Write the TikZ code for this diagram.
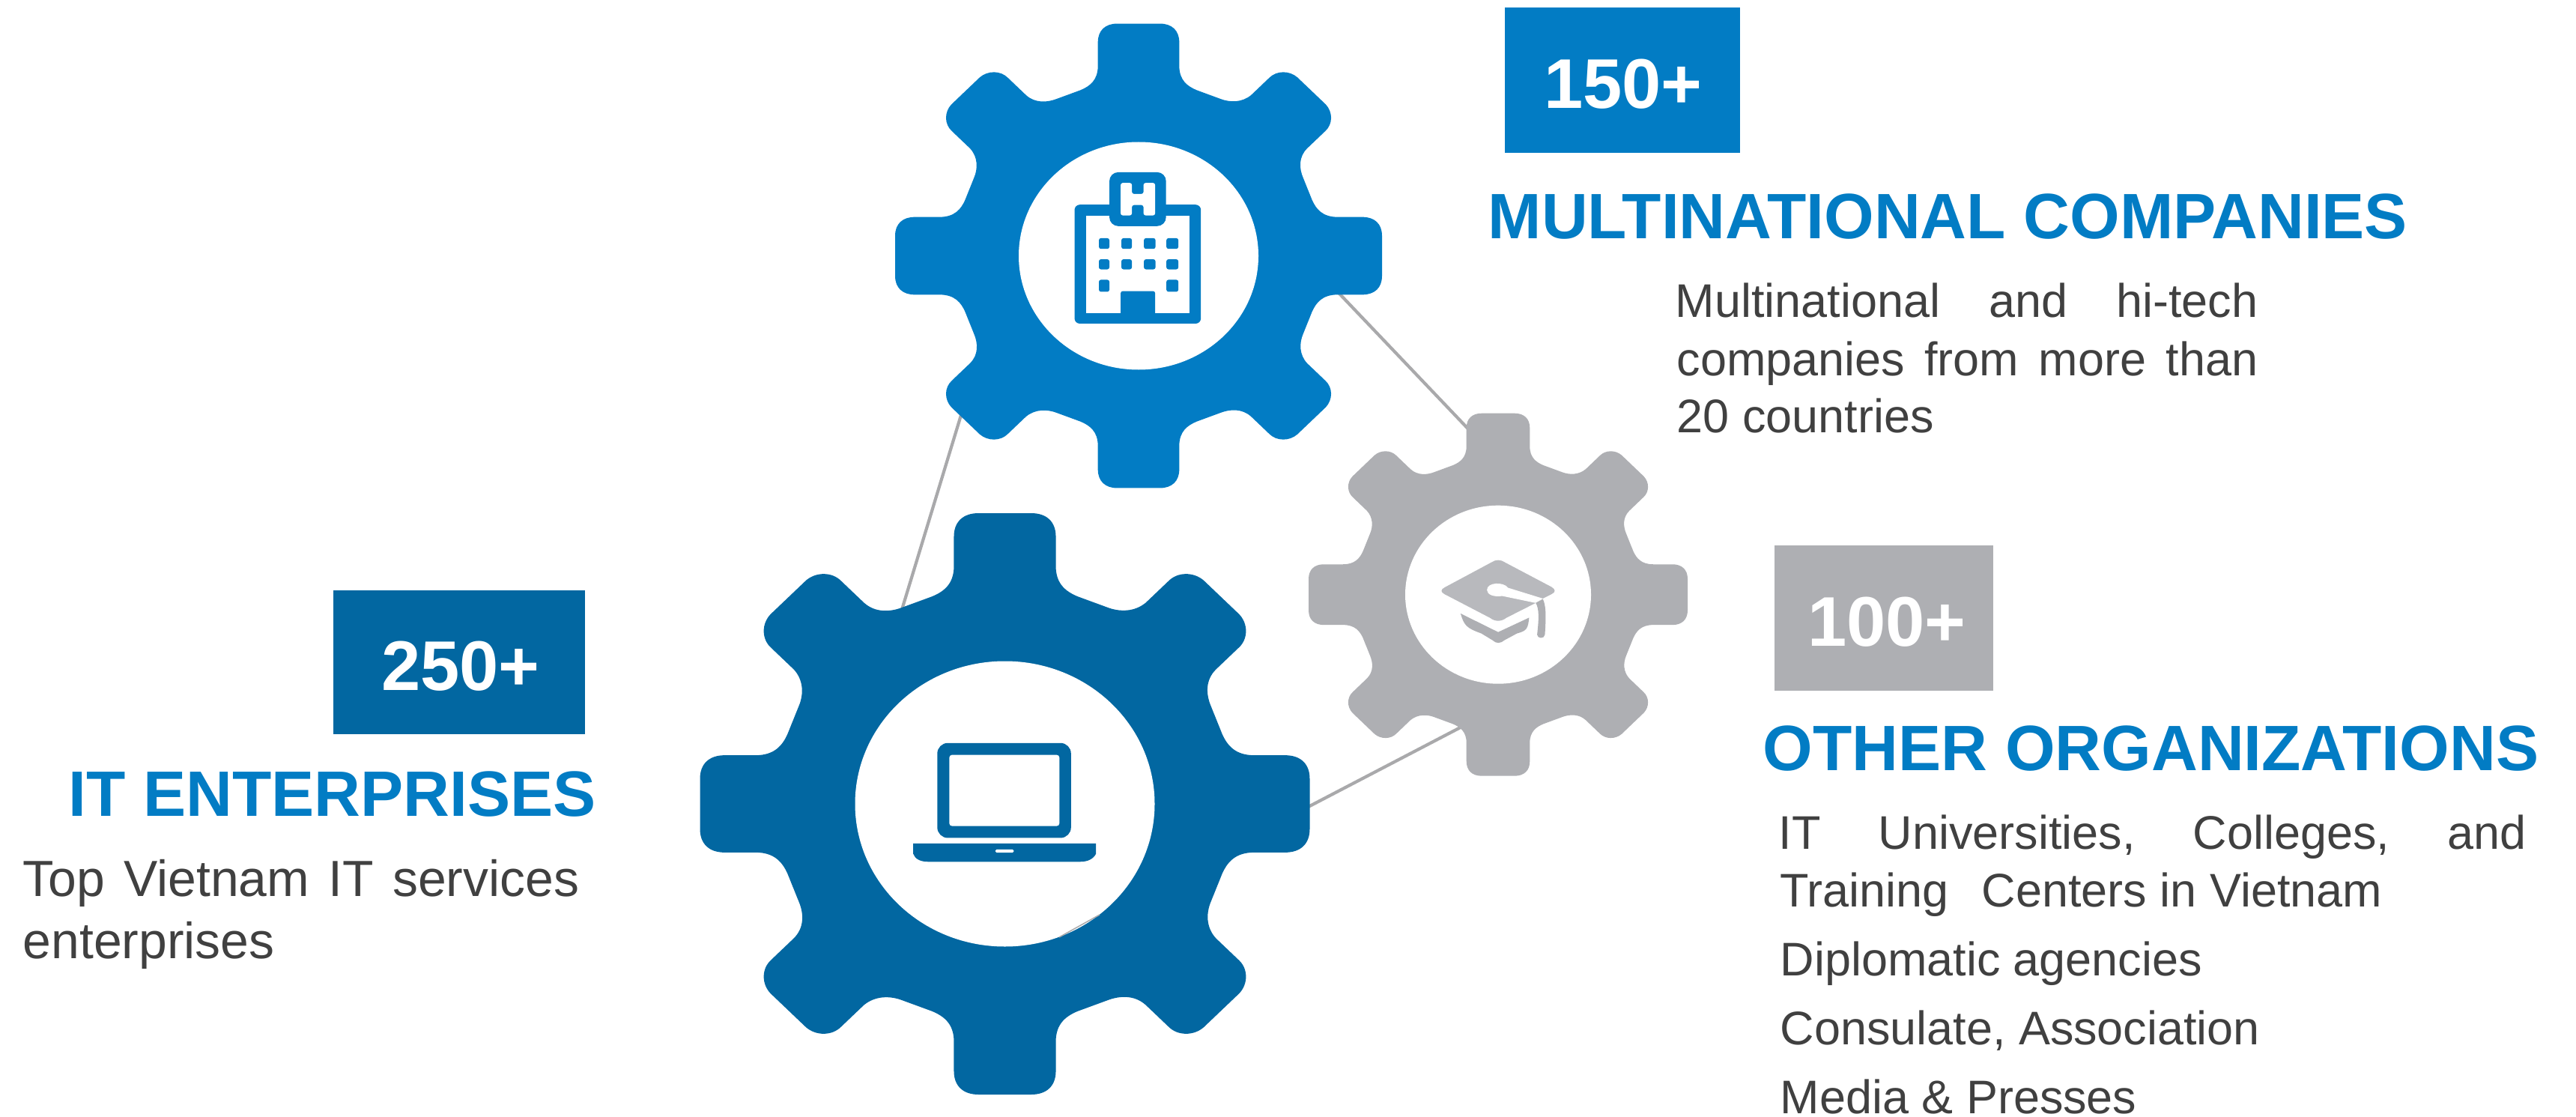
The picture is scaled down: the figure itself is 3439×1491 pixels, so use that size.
\documentclass[tikz,border=0pt]{standalone}
\usepackage{fontspec}
\setmainfont{Liberation Sans}
\definecolor{gearblue}{HTML}{027CC4}
\definecolor{geardark}{HTML}{0267A1}
\definecolor{geargrey}{HTML}{AEAFB3}
\definecolor{caplight}{HTML}{B8B9BD}
\definecolor{linkgrey}{HTML}{A9A9AB}
\definecolor{headblue}{HTML}{027CC4}
\definecolor{bodygrey}{HTML}{404040}
\newcommand\gearquad{ .. controls (92,670) and (112,650) .. (112,616) -- (112,548)
  .. controls (112,506) and (135,489) .. (160,478) -- (225,453)
  .. controls (252,442) and (285,440) .. (310,464) -- (360,514)
  .. controls (380,535) and (415,535) .. (437,515) -- (515,437)
  .. controls (535,415) and (535,380) .. (514,360) -- (464,310)
  .. controls (442,285) and (442,252) .. (453,225) -- (478,160)
  .. controls (489,135) and (506,112) .. (548,112) -- (616,112)
  .. controls (650,112) and (670,92) .. (670,58)}
\newcommand\gearbody{(58,670) \gearquad
  {[rotate=90] -- (58,670) \gearquad}
  {[rotate=180] -- (58,670) \gearquad}
  {[rotate=270] -- (58,670) \gearquad} -- cycle}
% centre x, centre y, half width, half height, hole rx, hole ry, colour
\newcommand\gearshape[7]{%
  \begin{scope}[shift={(#1,#2)}]
    \begin{scope}[xscale=#3/670,yscale=#4/670]
      \fill[#7] \gearbody;
    \end{scope}
    \fill[white] (0,0) ellipse [x radius=#5,y radius=#6];
  \end{scope}}
\tikzset{
  countbox/.style={rectangle,inner sep=0pt,text=white,text height=0.74cm,text depth=0cm,font=\fontsize{26.7}{27}\selectfont\bfseries},
  headline/.style={anchor=base west,inner sep=0pt,text=headblue,font=\fontsize{24.35}{25}\selectfont\bfseries},
  bodyline/.style={anchor=base west,inner sep=0pt,text=bodygrey,font=\fontsize{17.9}{18}\selectfont},
  bodylarge/.style={bodyline,font=\fontsize{19.3}{20}\selectfont},
  linkline/.style={draw=linkgrey,line width=0.042cm}
}
\begin{document}
\begin{tikzpicture}[x=0.01cm,y=-0.01cm]
\useasboundingbox (0,0) rectangle (3439,1491);
% connectors, behind the gears
\coordinate (bd1) at (1301,495);
\coordinate (bd2) at (1196,840);
\coordinate (bg1) at (1770,373);
\coordinate (bg2) at (1970,583);
\coordinate (dg1) at (1735,1083);
\coordinate (dg2) at (1965,963);
\draw[linkline] (bd1) -- (bd2);
\draw[linkline] (bg1) -- (bg2);
\draw[linkline] (dg1) -- (dg2);
% gears
\gearshape{1520}{341.5}{325}{310}{160}{152}{gearblue}
\gearshape{2000}{793.7}{253}{242}{124}{119}{geargrey}
\gearshape{1341.5}{1073}{407}{388}{200}{190.5}{geardark}
% sliver on the edge of the large hole
\coordinate (sl1) at (1414,1251);
\coordinate (sl2) at (1468,1221);
\draw[draw=linkgrey,line width=0.015cm] (sl1) -- (sl2);
% building icon
\begin{scope}[shift={(1150,0)},xscale=0.4847,yscale=0.4337]
  \fill[gearblue,rounded corners=2pt] (587,630) rectangle (935,996);
  \fill[white] (619,663) rectangle (904,964);
  \fill[gearblue,rounded corners=3.4pt] (683,530) rectangle (839,696);
  \fill[white,rounded corners=0.8pt] (714,563) -- (745,563) -- (745,597) -- (777,597) -- (777,563) -- (809,563) -- (809,663) -- (777,663) -- (777,631) -- (745,631) -- (745,663) -- (714,663) -- cycle;
  \foreach \wx/\wr in {654/683,716/745,778/810,840/873}{
    \fill[gearblue,rounded corners=0.8pt] (\wx,733) rectangle (\wr,766);
    \fill[gearblue,rounded corners=0.8pt] (\wx,798) rectangle (\wr,829);
  }
  \fill[gearblue,rounded corners=0.8pt] (654,861) rectangle (683,898);
  \fill[gearblue,rounded corners=0.8pt] (840,861) rectangle (873,898);
  \fill[gearblue,rounded corners=0.8pt] (714,970) -- (714,896) -- (809,896) -- (809,970) -- cycle;
\end{scope}
% graduation cap icon
\begin{scope}[shift={(1700,520)},xscale=0.3827,yscale=0.3444]
  \fill[caplight] (760,670) .. controls (775,658) and (793,658) .. (808,670) -- (970,765)
    .. controls (985,775) and (985,785) .. (970,793) -- (940,810) -- (915,827) -- (812,885)
    .. controls (795,900) and (773,900) .. (756,885) -- (597,793)
    .. controls (583,785) and (583,775) .. (597,767) -- cycle;
  \fill[white] (818,768) -- (940,810) -- (915,827) -- (798,800)
    .. controls (770,805) and (745,795) .. (745,777)
    .. controls (745,745) and (805,745) .. (818,768) -- cycle;
  \fill[geargrey] (940,812) .. controls (950,835) and (952,870) .. (947,950)
    .. controls (945,968) and (920,965) .. (920,950)
    .. controls (926,890) and (928,850) .. (915,827) -- cycle;
  \fill[geargrey] (653,868) -- (784,940) -- (892,884) .. controls (888,925) and (885,935) .. (850,945)
    -- (805,972) .. controls (790,985) and (778,985) .. (765,972) -- (725,945)
    .. controls (675,925) and (665,915) .. (653,868) -- cycle;
\end{scope}
% laptop icon
\begin{scope}[shift={(900,660)},xscale=0.5740,yscale=0.5300]
  \fill[geardark,rounded corners=4pt] (612,626) rectangle (923,865);
  \fill[white,rounded corners=1pt] (640,656) rectangle (896,835);
  \fill[geardark] (556,879) -- (981,879) -- (981,905) .. controls (975,918) and (962,925) .. (945,925)
    -- (590,925) .. controls (573,925) and (560,918) .. (556,905) -- cycle;
  \fill[white,rounded corners=0.5pt] (747,894) rectangle (790,902);
\end{scope}
% count boxes
\node[countbox,fill=gearblue,minimum width=3.14cm,minimum height=1.94cm] (n150) at (2166,107) {\hspace*{0.02cm}150+};
\node[countbox,fill=geargrey,minimum width=2.92cm,minimum height=1.94cm] (n100) at (2515,825) {\hspace*{0.08cm}100+};
\node[countbox,fill=geardark,minimum width=3.36cm,minimum height=1.92cm] (n250) at (613,884) {\hspace*{0.04cm}250+};
% headings
\node[headline] (hmulti) at (1986,318) {MULTINATIONAL COMPANIES};
\node[headline] (hother) at (2353,1028) {OTHER ORGANIZATIONS};
\node[headline] (hit) at (91,1089) {IT ENTERPRISES};
% multinational text
\node[bodyline] (m1) at (2236,423) {\makebox[7.77cm][l]{Multinational\hfill and\hfill hi-tech}};
\node[bodyline] (m2) at (2238,501) {\makebox[7.75cm][l]{companies\hfill from\hfill more\hfill than}};
\node[bodyline] (m3) at (2238,577) {20 countries};
% other organizations text
\node[bodyline] (o1) at (2374,1133) {\makebox[9.97cm][l]{IT\hfill Universities,\hfill Colleges,\hfill and}};
\node[bodyline] (o2) at (2376,1210.5) {\makebox[8.01cm][l]{Training\hskip 0.7em Centers in Vietnam}};
\node[bodyline] (o3) at (2376,1302.6) {Diplomatic agencies};
\node[bodyline] (o4) at (2376,1394.8) {Consulate, Association};
\node[bodyline] (o5) at (2376,1486) {Media \& Presses};
% IT enterprises text
\node[bodylarge] (t1) at (30,1196.6) {\makebox[7.42cm][l]{Top\hfill Vietnam\hfill IT\hfill services}};
\node[bodylarge] (t2) at (30,1279) {enterprises};
\end{tikzpicture}
\end{document}
